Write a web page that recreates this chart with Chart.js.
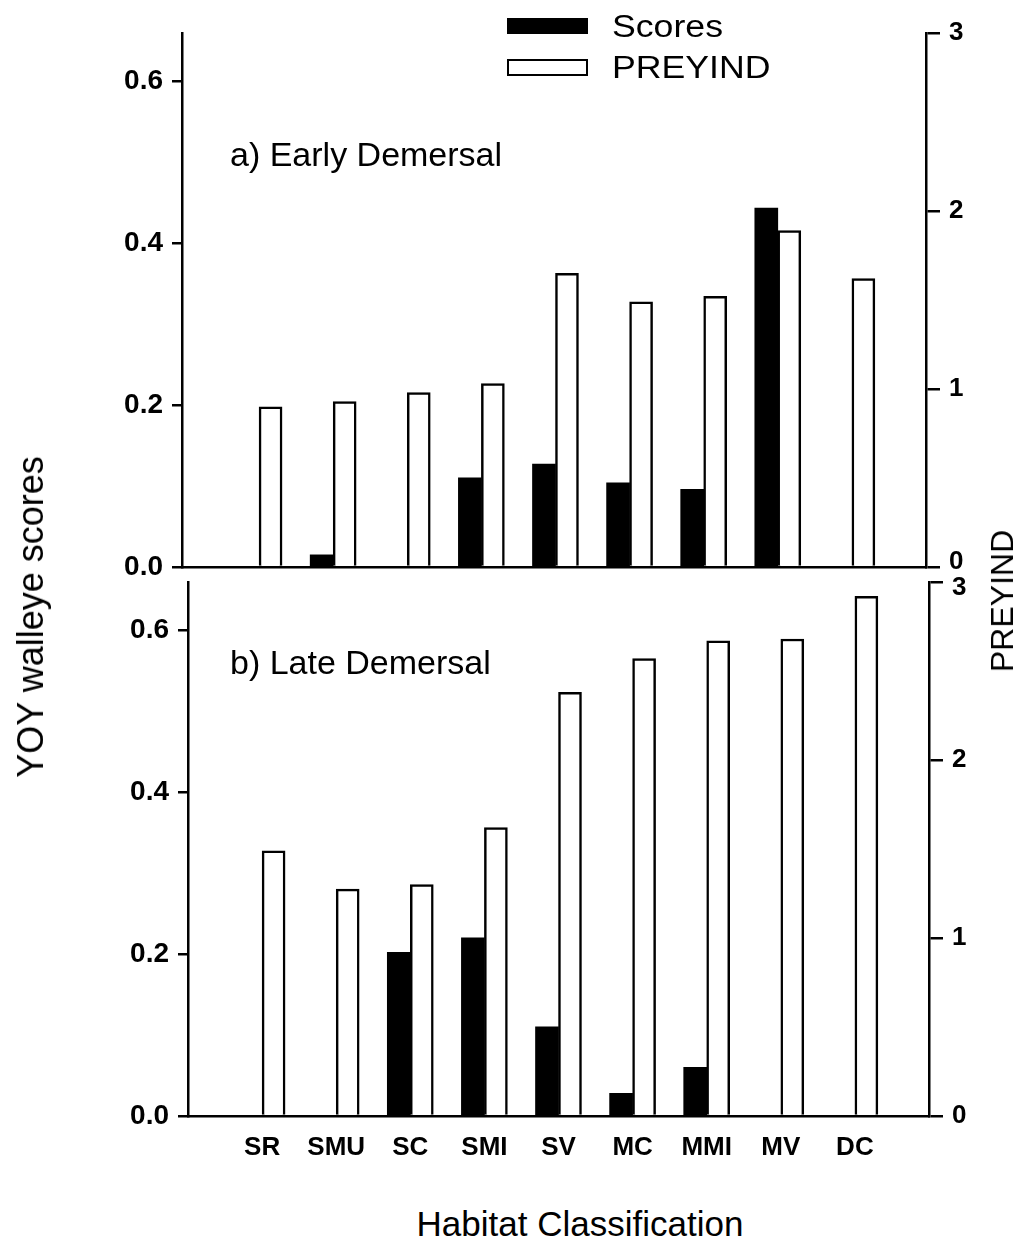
<!DOCTYPE html>
<html><head><meta charset="utf-8">
<script src="https://cdn.jsdelivr.net/npm/chart.js@4.4.1/dist/chart.umd.min.js"></script>
<style>
html,body{margin:0;padding:0;background:#fff;}
#wrap{position:relative;width:1027px;height:1242px;overflow:hidden;font-family:"Liberation Sans",Arial,Helvetica,sans-serif;color:#000;background:#fff;}
canvas{position:absolute;left:0;}
.t{position:absolute;line-height:1;white-space:nowrap;}
</style></head><body>
<div id="wrap">
<canvas id="c1" width="1027" height="600" style="top:0;width:1027px;height:600px"></canvas>
<canvas id="c2" width="1027" height="651" style="top:549px;width:1027px;height:651px"></canvas>
<div style="position:absolute;left:507px;top:18px;width:81px;height:16px;background:#000"></div>
<div style="position:absolute;left:507px;top:59px;width:81px;height:17px;border:2px solid #000;box-sizing:border-box;background:#fff"></div>
<div class="t" style="left:612px;top:11px;font-size:31px;transform:scaleX(1.15);transform-origin:left center">Scores</div>
<div class="t" style="left:612px;top:52px;font-size:31px;transform:scaleX(1.15);transform-origin:left center">PREYIND</div>
<div class="t" style="left:230px;top:137px;font-size:34px">a) Early Demersal</div>
<div class="t" style="left:230px;top:645px;font-size:34px">b) Late Demersal</div>
<div class="t" style="left:580px;top:1206px;font-size:35px;transform:translateX(-50%)">Habitat Classification</div>
<div class="t" style="left:31px;top:617px;font-size:36px;transform:translate(-50%,-50%) rotate(-90deg)">YOY walleye scores</div>
<div class="t" style="left:1002px;top:601px;font-size:32px;transform:translate(-50%,-50%) rotate(-90deg)">PREYIND</div>
</div>
<script>
const categories = ['SR','SMU','SC','SMI','SV','MC','MMI','MV','DC'];
const earlyScores  = [0, 0.015, 0, 0.11, 0.127, 0.104, 0.096, 0.443, 0];
const earlyPreyind = [0.90, 0.93, 0.98, 1.03, 1.65, 1.49, 1.52, 1.89, 1.62];
const lateScores   = [0, 0, 0.202, 0.22, 0.11, 0.028, 0.06, 0, 0];
const latePreyind  = [1.49, 1.275, 1.30, 1.62, 2.38, 2.57, 2.67, 2.68, 2.92];
const scoreTicks   = [0, 0.2, 0.4, 0.6];
const preyTicks    = [0, 1, 2, 3];
const scoreMax = 0.659;
const preyMax = 3;

const FAM = '"Liberation Sans", Arial, Helvetica, sans-serif';

function pts(arr){ return arr.map((v,i)=>({x:i, y:v})); }

function makeChart(id, scores, prey, o){
  return new Chart(document.getElementById(id), {
    type:'bar',
    data:{ datasets:[
      {label:'Scores', data:pts(scores), yAxisID:'y', backgroundColor:'#000', borderWidth:0, barThickness:23},
      {label:'PREYIND', data:pts(prey), yAxisID:'y2', backgroundColor:'#fff', borderColor:'#000', borderWidth:2.5, barThickness:23}
    ]},
    options:{
      responsive:false, animation:false,
      layout:{padding:{top:33,left:0,right:0,bottom:0}},
      plugins:{legend:{display:false}, tooltip:{enabled:false}},
      scales:{
        x:{type:'linear', min:o.xmin, max:o.xmax, offset:false,
           grid:{display:false, drawTicks:false},
           border:{display:true, color:'#000', width:2.5},
           ticks:{display:o.labels, stepSize:1, autoSkip:false, maxRotation:0, padding:16, color:'#000',
                  font:{family:FAM, size:26, weight:'bold'},
                  callback:(v)=> (Number.isInteger(v) && v>=0 && v<categories.length) ? categories[v] : ''},
           afterBuildTicks:(s)=>{ s.ticks = categories.map((c,i)=>({value:i})); },
           afterFit:(s)=>{ s.height = o.xh; }},
        y:{position:'left', min:0, max:scoreMax,
           border:{display:true, color:'#000', width:2.5},
           grid:{drawOnChartArea:false, drawTicks:true, tickLength:10, color:'#000', lineWidth:2.5},
           ticks:{padding:9, color:'#000', font:{family:FAM, size:28, weight:'bold'}, callback:(v)=>Number(v).toFixed(1)},
           afterBuildTicks:(s)=>{ s.ticks = scoreTicks.map(v=>({value:v})); },
           afterFit:(s)=>{ s.width = o.left; }},
        y2:{position:'right', min:0, max:preyMax,
           border:{display:true, color:'#000', width:2.5},
           grid:{drawOnChartArea:false, drawTicks:true, tickLength:14, color:'#000', lineWidth:2.5},
           ticks:{padding:9, color:'#000', font:{family:FAM, size:26, weight:'bold', lineHeight:0.42},
                  callback:(v)=>{
                    const s = String(v);
                    if (o.shiftLow && v === 0) return [s, ''];
                    if (o.shiftHigh && v === preyMax) return ['', s];
                    return s;
                  }},
           afterBuildTicks:(s)=>{ s.ticks = preyTicks.map(v=>({value:v})); },
           afterFit:(s)=>{ s.width = o.right; }}
      }
    }
  });
}

makeChart('c1', earlyScores, earlyPreyind, {xmin:-1.04, xmax:9.0, labels:false, xh:33, left:182, right:101, shiftLow:true});
makeChart('c2', lateScores, latePreyind, {xmin:-1.0, xmax:9.0, labels:true, xh:84, left:188, right:98, shiftHigh:true});
</script>
</body></html>
